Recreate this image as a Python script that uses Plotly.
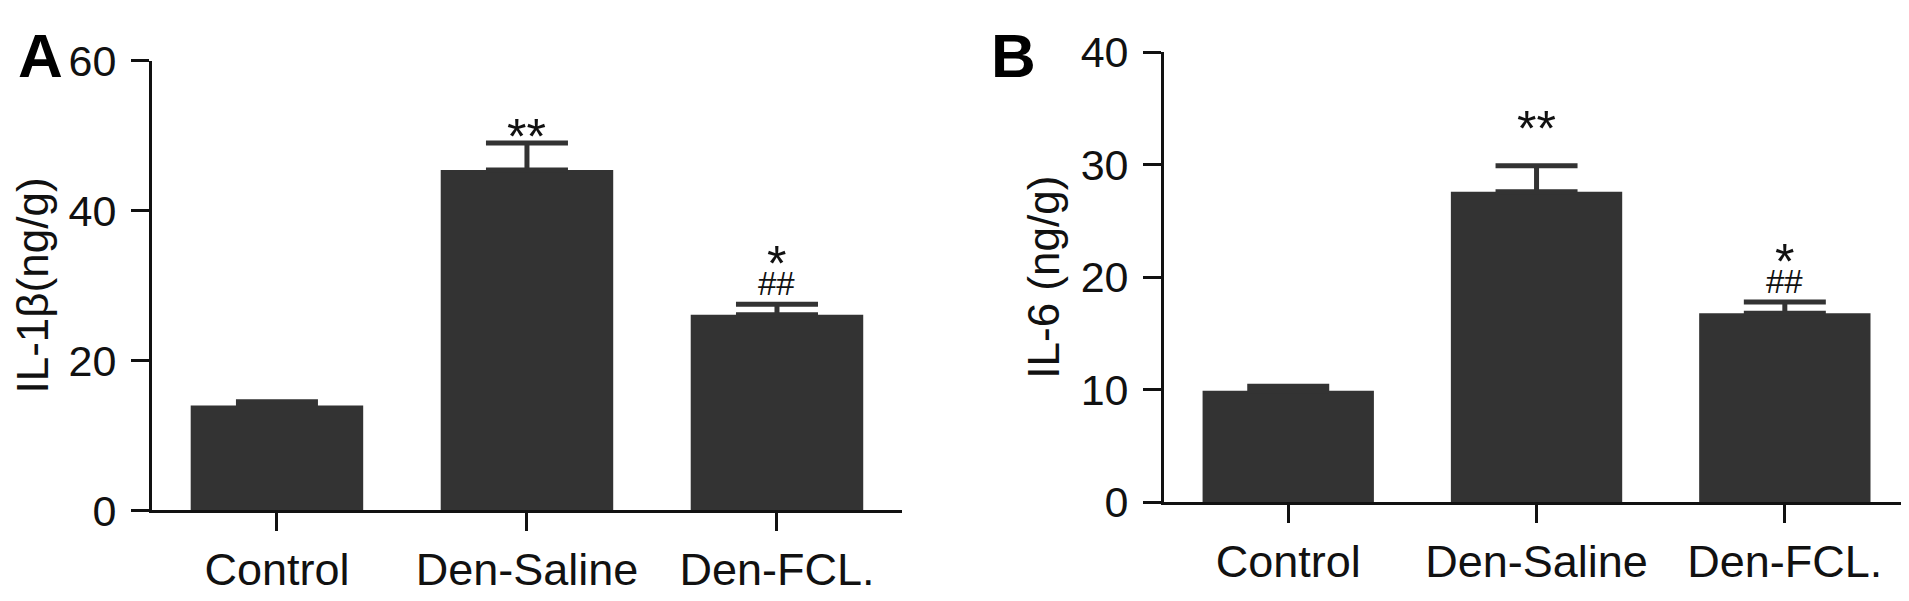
import plotly.graph_objects as go

categories = ["Control", "Den-Saline", "Den-FCL."]

il1b_mean = [14.0, 45.4, 26.1]
il1b_sem = [0.5, 3.6, 1.4]
il1b_star = ["", "**", "*"]
il1b_hash = ["", "", "##"]

il6_mean = [9.9, 27.6, 16.8]
il6_sem = [0.4, 2.3, 1.0]
il6_star = ["", "**", "*"]
il6_hash = ["", "", "##"]

il1b_ticks = [0, 20, 40, 60]
il6_ticks = [0, 10, 20, 30, 40]

FONT = "Liberation Sans, Arial, sans-serif"
BAR = "#333333"
INK = "#111111"

fig = go.Figure()

def add_bars(means, sems, xa, ya):
    fig.add_trace(go.Bar(
        x=categories, y=means, xaxis=xa, yaxis=ya,
        marker=dict(color=BAR, line=dict(width=0)),
        error_y=dict(type="data", symmetric=False, array=sems,
                     arrayminus=[0] * len(sems),
                     color=BAR, thickness=5, width=41),
        showlegend=False,
    ))

add_bars(il1b_mean, il1b_sem, "x", "y")
add_bars(il6_mean, il6_sem, "x2", "y2")

axis_common = dict(
    showline=True, linecolor=INK, linewidth=3,
    ticks="outside", ticklen=18, tickwidth=3, tickcolor=INK,
    showgrid=False, zeroline=False, mirror=False,
)

fig.update_layout(
    width=1909, height=601, autosize=False,
    margin=dict(l=0, r=0, t=0, b=0),
    paper_bgcolor="white", plot_bgcolor="white",
    bargap=0.31,
    font=dict(family=FONT, color=INK),
    xaxis=dict(domain=[0.0754, 0.4683], anchor="y", type="category",
               range=[-0.5, 2.5], tickfont=dict(size=45), **axis_common),
    yaxis=dict(domain=[0.1348, 0.9484], anchor="x", range=[0, 60],
               tickvals=il1b_ticks, tickfont=dict(size=43), ticklabelstandoff=6,
               title=dict(text="IL-1β(ng/g)", font=dict(size=44), standoff=13),
               **axis_common),
    xaxis2=dict(domain=[0.6056, 0.9958], anchor="y2", type="category",
                range=[-0.5, 2.5], tickfont=dict(size=45), **axis_common),
    yaxis2=dict(domain=[0.1498, 0.9634], anchor="x2", range=[0, 40],
                tickvals=il6_ticks, tickfont=dict(size=43), ticklabelstandoff=6,
                title=dict(text="IL-6 (ng/g)", font=dict(size=44), standoff=8),
                **axis_common),
)

def add_marks(means, sems, stars, hashes, xr, yr, extra):
    for i, c in enumerate(categories):
        top = means[i] + sems[i]
        if hashes[i]:
            fig.add_annotation(x=c, y=top, xref=xr, yref=yr, text=hashes[i],
                               showarrow=False, yanchor="bottom", yshift=0,
                               font=dict(size=33, family=FONT, color=INK))
            if stars[i]:
                fig.add_annotation(x=c, y=top, xref=xr, yref=yr, text=stars[i],
                                   showarrow=False, yanchor="bottom", yshift=10,
                                   font=dict(size=50, family=FONT, color=INK))
        elif stars[i]:
            fig.add_annotation(x=c, y=top, xref=xr, yref=yr, text=stars[i],
                               showarrow=False, yanchor="bottom", yshift=-24 + extra,
                               font=dict(size=50, family=FONT, color=INK))

add_marks(il1b_mean, il1b_sem, il1b_star, il1b_hash, "x", "y", 0)
add_marks(il6_mean, il6_sem, il6_star, il6_hash, "x2", "y2", 31)

fig.add_annotation(x=0.004, y=0.99, xref="paper", yref="paper", text="<b>A</b>",
                   showarrow=False, xanchor="left", yanchor="top", yshift=19,
                   font=dict(size=62, family=FONT, color="black"))
fig.add_annotation(x=0.514, y=0.99, xref="paper", yref="paper", text="<b>B</b>",
                   showarrow=False, xanchor="left", yanchor="top", yshift=19,
                   font=dict(size=62, family=FONT, color="black"))

fig.write_html("out.html")
